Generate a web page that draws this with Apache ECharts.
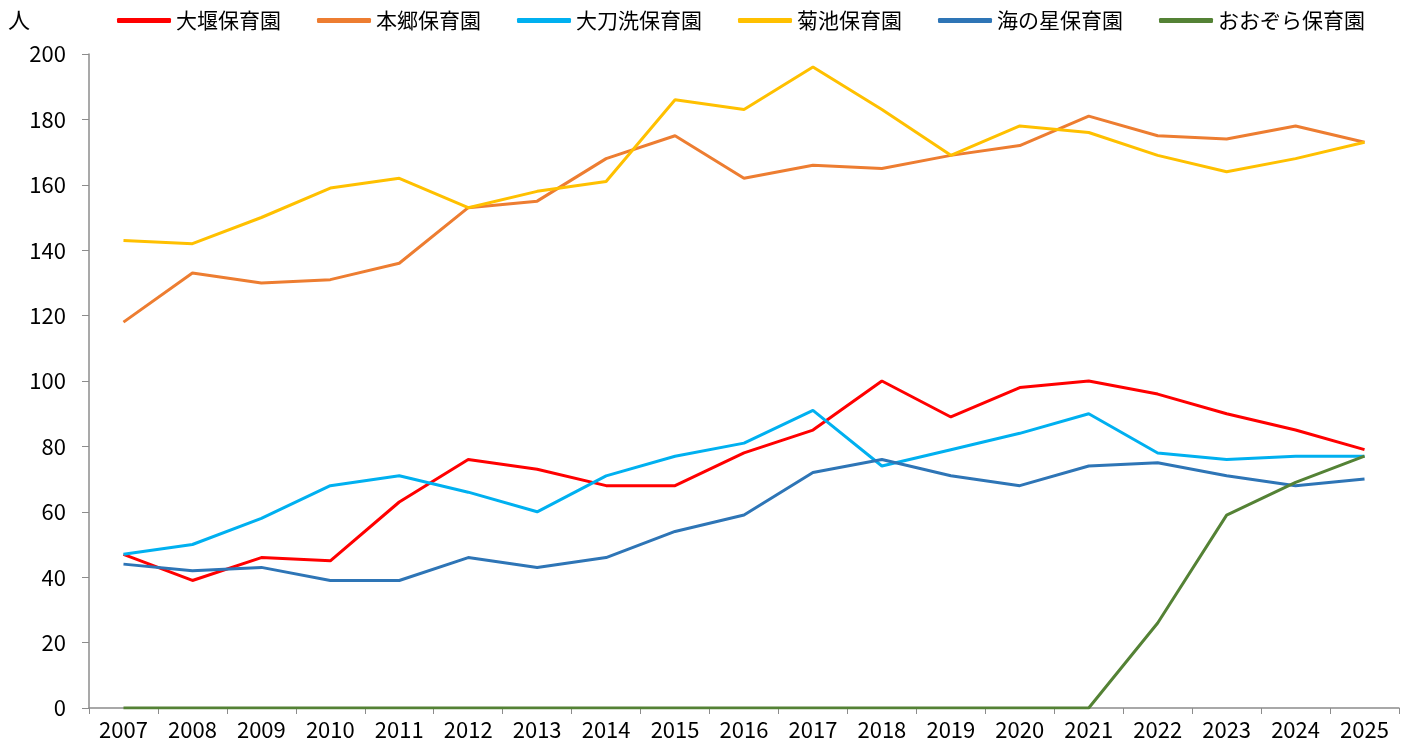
<!DOCTYPE html>
<html>
<head>
<meta charset="utf-8">
<title>保育園 園児数の推移</title>
<script src="https://cdn.jsdelivr.net/npm/echarts@6/dist/echarts.min.js"></script>
<style>
  html, body { margin: 0; padding: 0; background: #fff; }
  #chart { width: 1413px; height: 749px; }
</style>
</head>
<body>
<div id="chart"></div>
<script>
// data
const years = ['2007', '2008', '2009', '2010', '2011', '2012', '2013', '2014', '2015', '2016',
  '2017', '2018', '2019', '2020', '2021', '2022', '2023', '2024', '2025'];

const oozeki   = [47, 39, 46, 45, 63, 76, 73, 68, 68, 78, 85, 100, 89, 98, 100, 96, 90, 85, 79];
const hongo    = [118, 133, 130, 131, 136, 153, 155, 168, 175, 162, 166, 165, 169, 172, 181, 175, 174, 178, 173];
const tachiarai = [47, 50, 58, 68, 71, 66, 60, 71, 77, 81, 91, 74, 79, 84, 90, 78, 76, 77, 77];
const kikuchi  = [143, 142, 150, 159, 162, 153, 158, 161, 186, 183, 196, 183, 169, 178, 176, 169, 164, 168, 173];
const uminohoshi = [44, 42, 43, 39, 39, 46, 43, 46, 54, 59, 72, 76, 71, 68, 74, 75, 71, 68, 70];
const ozora    = [0, 0, 0, 0, 0, 0, 0, 0, 0, 0, 0, 0, 0, 0, 0, 26, 59, 69, 77];

const seriesDefs = [
  { name: '大堰保育園', data: oozeki, color: '#FF0000' },
  { name: '本郷保育園', data: hongo, color: '#ED7D31' },
  { name: '大刀洗保育園', data: tachiarai, color: '#00B0F0' },
  { name: '菊池保育園', data: kikuchi, color: '#FFC000' },
  { name: '海の星保育園', data: uminohoshi, color: '#2E75B6' },
  { name: 'おおぞら保育園', data: ozora, color: '#548235' },
];

const font = '"Noto Sans CJK JP", "Noto Sans", sans-serif';
const axisGray = '#8c8c8c';

const chart = echarts.init(document.getElementById('chart'));

chart.setOption({
  animation: false,
  textStyle: { fontFamily: font, color: '#000' },
  graphic: [{
    type: 'text',
    left: 8,
    top: 9,
    style: { text: '人', font: '22px ' + font, fill: '#000' },
  }],
  legend: {
    left: 112,
    top: 5,
    itemWidth: 54,
    itemHeight: 5,
    itemGap: 36,
    icon: 'roundRect',
    textStyle: { fontSize: 21, color: '#000', fontFamily: font },
    data: seriesDefs.map(s => s.name),
  },
  grid: { left: 89, right: 14, top: 54, bottom: 41, containLabel: false },
  xAxis: {
    type: 'category',
    data: years,
    boundaryGap: true,
    axisLine: { lineStyle: { color: axisGray, width: 1.5 } },
    axisTick: { show: true, length: 6, lineStyle: { color: axisGray } },
    axisLabel: { fontSize: 22, color: '#000', margin: 11, interval: 0 },
  },
  yAxis: {
    type: 'value',
    min: 0,
    max: 200,
    interval: 20,
    axisLine: { show: true, lineStyle: { color: axisGray, width: 1.5 } },
    axisTick: { show: true, length: 7, lineStyle: { color: axisGray } },
    axisLabel: { fontSize: 22, color: '#000', margin: 23 },
    splitLine: { show: false },
  },
  series: seriesDefs.map(s => ({
    name: s.name,
    type: 'line',
    data: s.data,
    symbol: 'none',
    color: s.color,
    lineStyle: { width: 3, color: s.color },
  })),
});
</script>
</body>
</html>
